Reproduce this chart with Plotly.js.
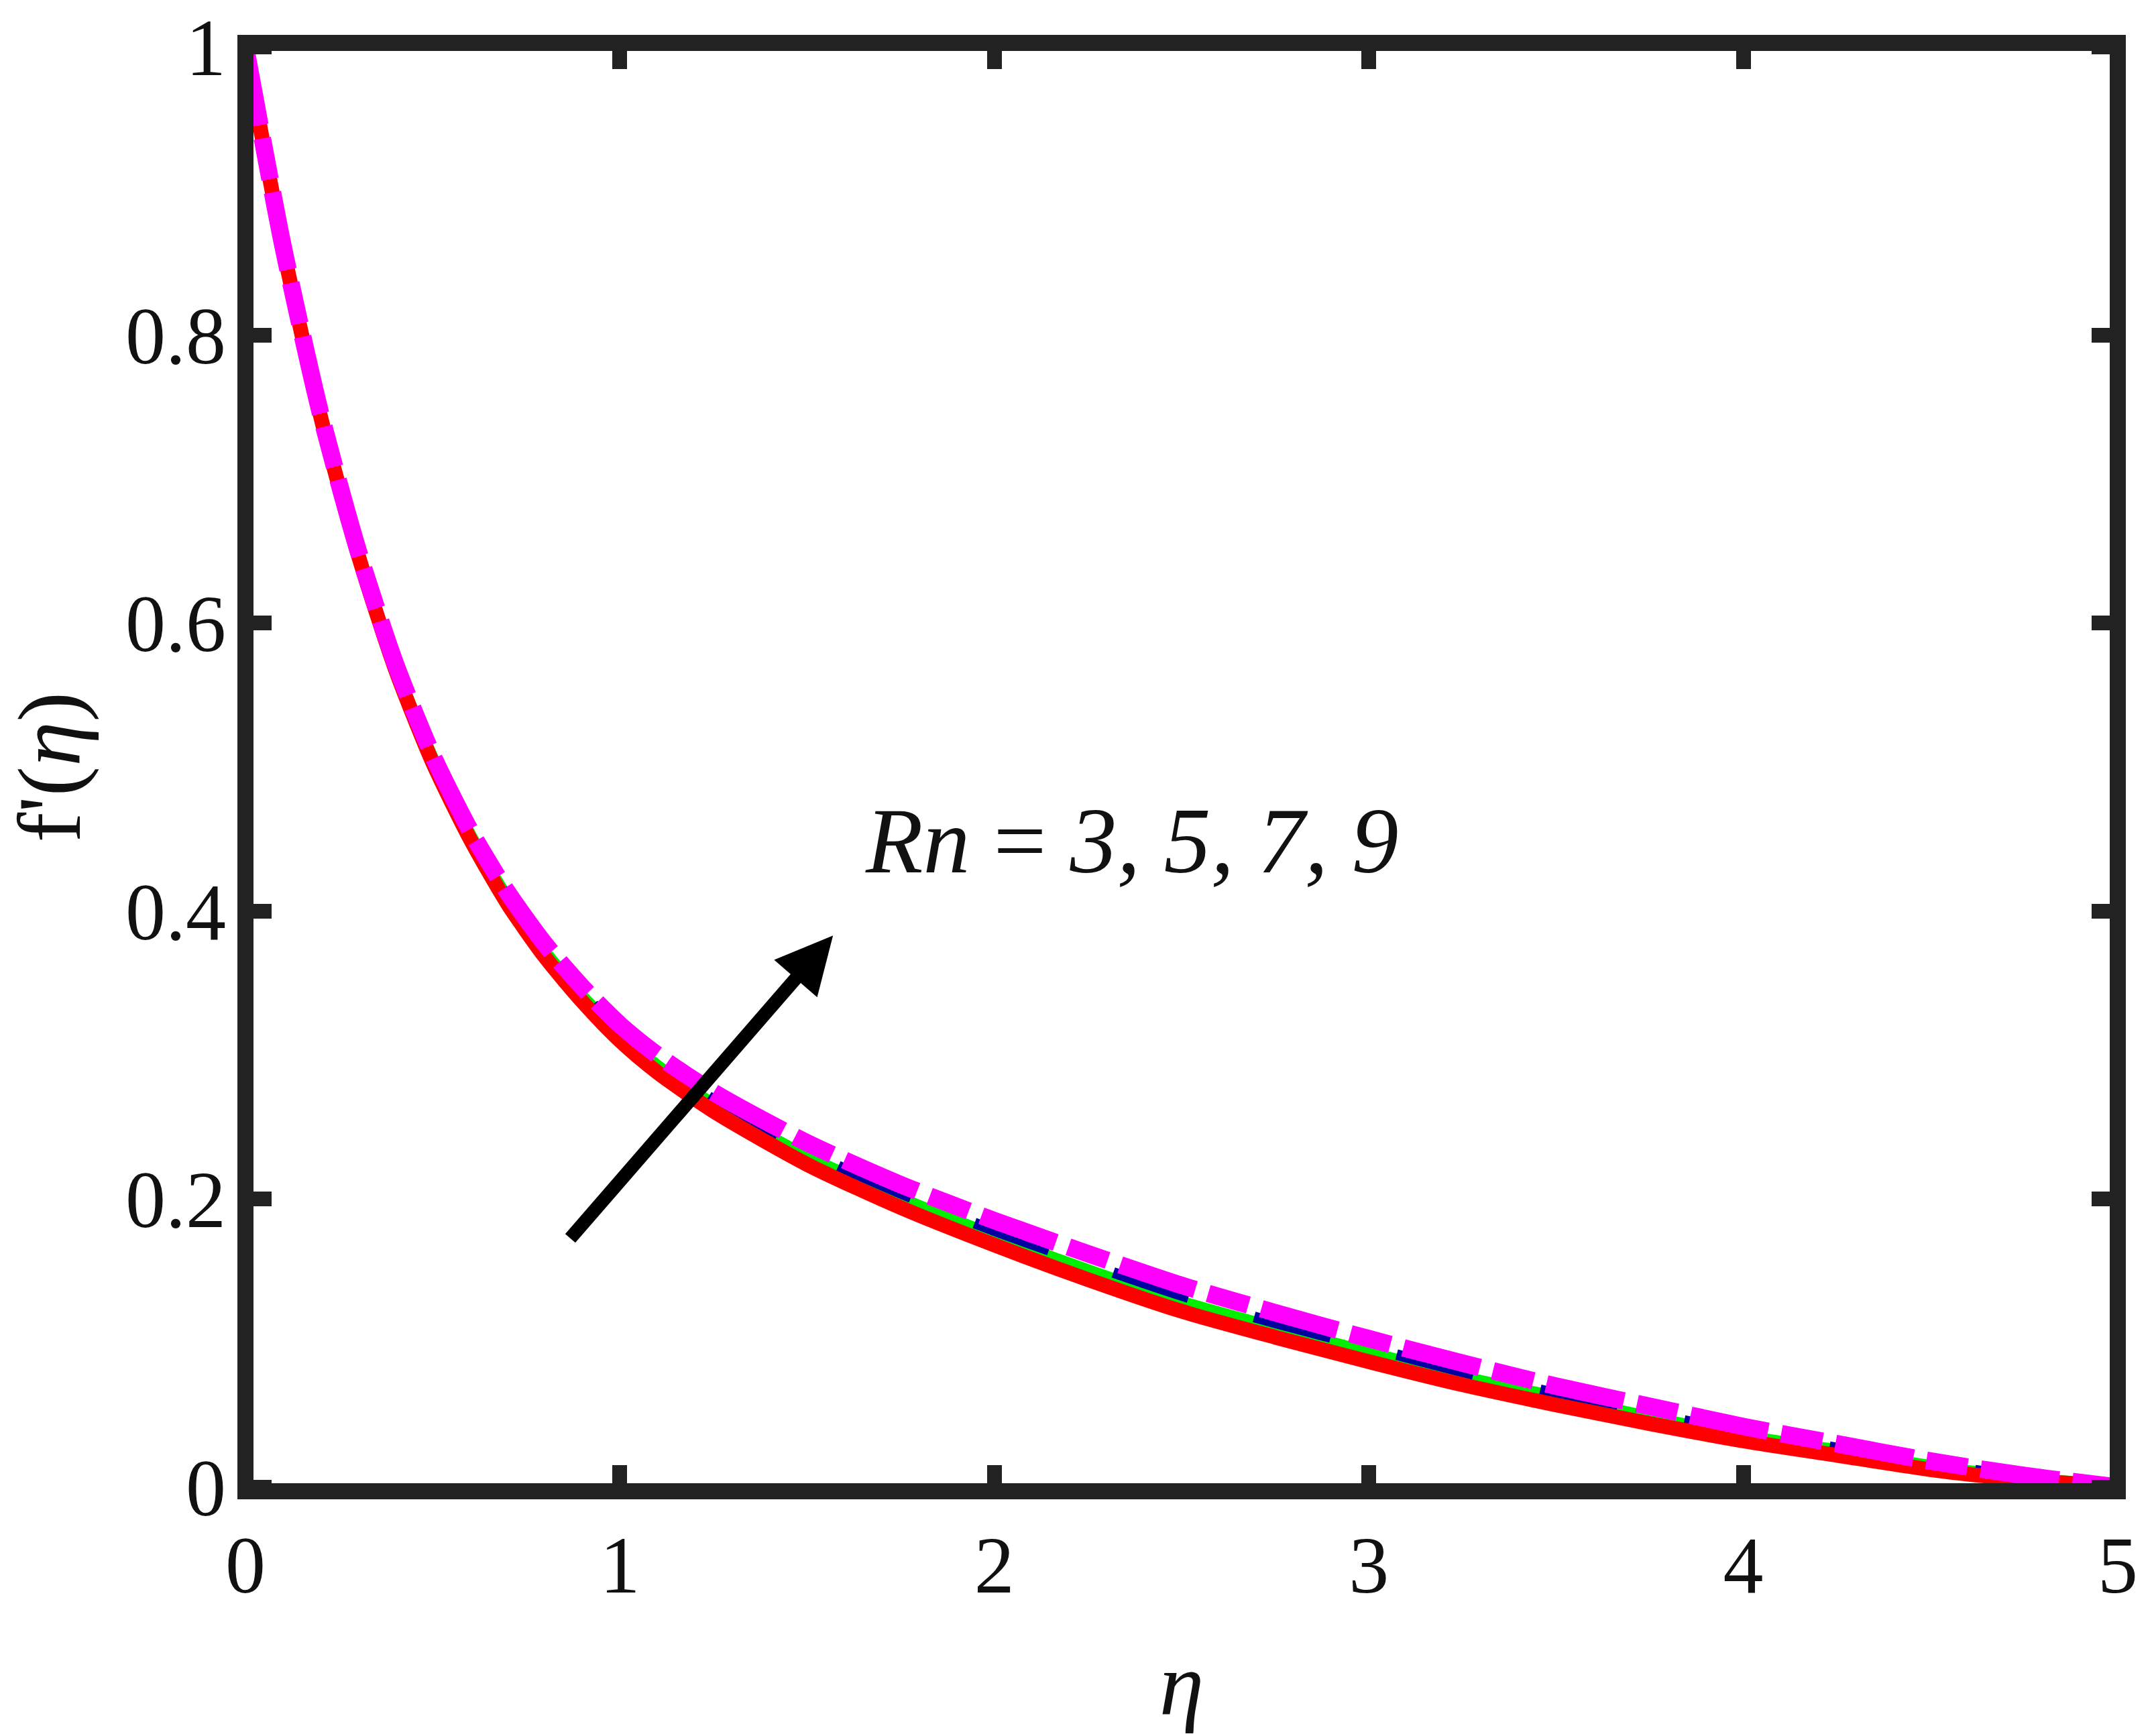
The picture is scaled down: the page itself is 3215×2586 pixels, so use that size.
<!DOCTYPE html>
<html>
<head>
<meta charset="utf-8">
<script src="https://cdn.plot.ly/plotly-3.0.1.min.js"></script>
<style>
  html, body { margin: 0; padding: 0; background: #fff; }
  #chart { width: 3215px; height: 2586px; }
</style>
</head>
<body>
<div id="chart"></div>
<script>
// Velocity profile f'(eta) for Rn = 3, 5, 7, 9

const eta = [0, 0.1, 0.2, 0.3, 0.4, 0.5, 0.6, 0.7, 0.8, 0.9, 1.0, 1.1,
             1.25, 1.5, 1.75, 2.0, 2.25, 2.5, 2.75, 3.0, 3.25, 3.5, 3.75, 4.0, 4.25, 4.5, 4.75, 5.0];

const fpRn3 = [1.0, 0.861, 0.744, 0.648, 0.568, 0.503, 0.450, 0.405, 0.368, 0.337, 0.310, 0.288,
               0.261, 0.224, 0.194, 0.168, 0.144, 0.122, 0.104, 0.087, 0.071, 0.057, 0.044, 0.032, 0.022, 0.012, 0.005, 0.0];
const fpRn5 = [1.0, 0.861, 0.745, 0.649, 0.569, 0.505, 0.452, 0.408, 0.371, 0.340, 0.314, 0.292,
               0.265, 0.229, 0.200, 0.174, 0.150, 0.128, 0.110, 0.093, 0.076, 0.062, 0.048, 0.035, 0.025, 0.014, 0.006, 0.0];
const fpRn7 = [1.0, 0.862, 0.745, 0.650, 0.570, 0.506, 0.454, 0.410, 0.373, 0.343, 0.317, 0.296,
               0.269, 0.233, 0.204, 0.178, 0.155, 0.133, 0.114, 0.097, 0.080, 0.065, 0.051, 0.038, 0.027, 0.016, 0.007, 0.0];
const fpRn9 = [1.0, 0.862, 0.746, 0.651, 0.572, 0.508, 0.456, 0.413, 0.377, 0.347, 0.321, 0.300,
               0.274, 0.239, 0.210, 0.185, 0.162, 0.140, 0.121, 0.103, 0.086, 0.070, 0.056, 0.042, 0.030, 0.018, 0.008, 0.0];

const xTicks = [0, 1, 2, 3, 4, 5];
const yTicks = [0, 0.2, 0.4, 0.6, 0.8, 1];

const serif = "'Liberation Serif', 'Times New Roman', Times, serif";
const frame = '#222222';

function curve(y, color, width, dash) {
    return {
        x: eta, y: y,
        type: 'scatter', mode: 'lines',
        line: {color: color, width: width, dash: dash, shape: 'spline', smoothing: 0.7},
        hoverinfo: 'skip', showlegend: false
    };
}

// drawn bottom to top: green, blue, red, magenta
const traces = [
    curve(fpRn5, '#00ee00', 20, 'solid'),
    curve(fpRn7, '#0000a0', 16, '118px,102px'),
    curve(fpRn3, '#ff0000', 22, 'solid'),
    curve(fpRn9, '#ff00ff', 26, '118px,20px,62px,20px')
];

const axisCommon = {
    showgrid: false,
    zeroline: false,
    showline: false,
    mirror: 'ticks',
    ticks: 'inside',
    ticklen: 39,
    tickwidth: 22,
    tickcolor: frame,
    tickfont: {family: serif, size: 120, color: '#111'}
};

const layout = {
    width: 3215,
    height: 2586,
    paper_bgcolor: '#ffffff',
    plot_bgcolor: '#ffffff',
    margin: {l: 366, r: 57, t: 64, b: 362},
    xaxis: Object.assign({}, axisCommon, {
        range: [-0.0002, 5.0002],
        tickvals: xTicks,
        ticktext: xTicks.map(String),
        ticklabelstandoff: 30,
        title: {text: '<i>η</i>', font: {family: serif, size: 134, color: '#111'}, standoff: 70}
    }),
    yaxis: Object.assign({}, axisCommon, {
        range: [-0.003, 1.003],
        tickvals: yTicks,
        ticktext: yTicks.map(String),
        ticklabelstandoff: 28,
        title: {text: "f'(<i>η</i>)", font: {family: serif, size: 134, color: '#111'}, standoff: 40}
    }),
    shapes: [
        {
            type: 'rect', xref: 'paper', yref: 'paper',
            x0: 0, x1: 1, y0: 0, y1: 1,
            line: {color: frame, width: 24},
            layer: 'above'
        }
    ],
    annotations: [
        {
            x: 2.367, y: 0.449, xref: 'x', yref: 'y',
            text: '<i>Rn</i> = <i>3, 5, 7, 9</i>',
            showarrow: false,
            font: {family: serif, size: 140, color: '#111'}
        },
        {
            x: 1.569, y: 0.383, ax: 0.865, ay: 0.172,
            xref: 'x', yref: 'y', axref: 'x', ayref: 'y',
            text: '',
            showarrow: true,
            arrowhead: 2,
            arrowsize: 0.85,
            arrowwidth: 20,
            arrowcolor: '#000000'
        }
    ]
};

Plotly.newPlot('chart', traces, layout, {displayModeBar: false, staticPlot: true});
</script>
</body>
</html>
